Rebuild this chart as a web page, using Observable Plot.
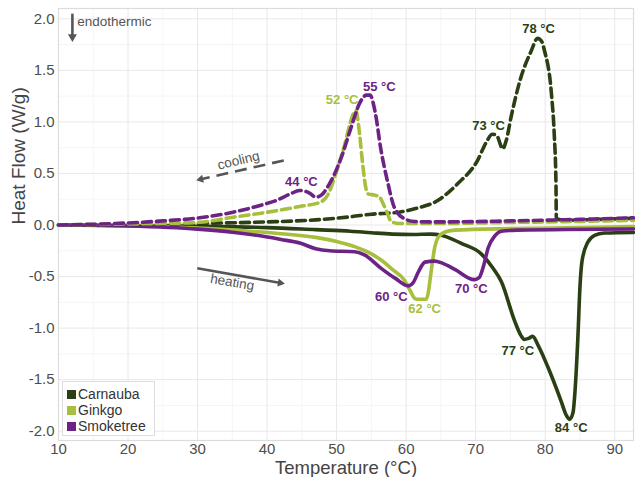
<!DOCTYPE html>
<html><head><meta charset="utf-8">
<script src="https://cdn.jsdelivr.net/npm/d3@7"></script>
<script src="https://cdn.jsdelivr.net/npm/@observablehq/plot@0.6"></script>
<style>
body{margin:0;background:#fff;font-family:"Liberation Sans",Arial,sans-serif;}
#wrap{position:relative;width:635px;height:477px;overflow:hidden;}
#legend{position:absolute;left:62px;top:381px;width:93px;height:55px;box-sizing:border-box;border:1px solid #dedede;background:#fff;padding:4px 0 0 4px;}
.row{display:flex;align-items:center;height:16px;overflow:visible;}
.sw{width:9px;height:9px;margin-right:2px;flex:none;}
.lab{display:block;height:16px;line-height:16px;font-size:14px;color:#333;white-space:nowrap;}
</style></head><body><div id="wrap"><div id="legend"></div></div>
<script>
// ---- data ----
const seriesNames = ["Carnauba", "Ginkgo", "Smoketree"];
const seriesColors = ["#2b3f14", "#a8bf3d", "#6c2385"];

// heating scans (solid): [temperature °C, heat flow W/g]
const carnaubaHeating = [[10,0],[20,-0.005],[30,-0.012],[40,-0.025],[47,-0.045],[52,-0.06],[55,-0.075],[58,-0.088],[61,-0.092],[63.5,-0.088],[65,-0.098],[66,-0.12],[68,-0.18],[70.8,-0.28],[72.5,-0.42],[73.7,-0.55],[75.6,-0.93],[76.5,-1.07],[77.0,-1.11],[77.6,-1.1],[78.2,-1.08],[79,-1.17],[80.4,-1.38],[82.3,-1.71],[83.0,-1.84],[83.5,-1.885],[84.0,-1.82],[84.3,-1.6],[84.7,-1.09],[85.0,-0.6],[85.3,-0.35],[86.1,-0.17],[87.1,-0.1],[88.5,-0.078],[92.7,-0.072]];
const ginkgoHeating = [[10,0],[20,-0.005],[30,-0.03],[37.5,-0.06],[42,-0.085],[47,-0.12],[50,-0.16],[52.6,-0.21],[55,-0.28],[56.4,-0.34],[58,-0.43],[59.8,-0.54],[60.6,-0.64],[61.2,-0.71],[61.6,-0.72],[62.9,-0.72],[63.2,-0.65],[63.5,-0.5],[63.8,-0.35],[64.1,-0.22],[64.6,-0.12],[65.5,-0.07],[67,-0.05],[75,-0.035],[85,-0.025],[92.7,-0.015]];
const smoketreeHeating = [[10,0],[20,-0.01],[30,-0.04],[35,-0.07],[38.5,-0.1],[42,-0.14],[44.7,-0.175],[47,-0.23],[49,-0.25],[52.6,-0.26],[54,-0.29],[56.4,-0.42],[58.5,-0.52],[60.3,-0.59],[61.0,-0.56],[61.8,-0.45],[62.7,-0.36],[64.1,-0.35],[65.2,-0.37],[67,-0.43],[69.8,-0.53],[70.5,-0.51],[71.2,-0.38],[71.8,-0.22],[72.7,-0.11],[73.7,-0.06],[76,-0.05],[92.7,-0.038]];

// cooling scans (dashed)
const carnaubaCooling = [[10,0],[20,0.005],[31,0.017],[40,0.03],[47,0.05],[52,0.08],[55,0.105],[59,0.124],[61.2,0.157],[64.6,0.24],[67.4,0.40],[70.3,0.63],[71.5,0.8],[72.4,0.88],[73,0.87],[73.9,0.74],[74.4,0.82],[75.1,1.05],[76.5,1.43],[78,1.69],[78.9,1.81],[79.5,1.78],[79.9,1.69],[80.9,1.27],[81.3,0.88],[81.55,0.4],[81.6,0.06],[83,0.045],[88,0.055],[92.7,0.065]];
const ginkgoCooling = [[10,0],[20,0.01],[25,0.015],[30.3,0.027],[35.1,0.076],[40,0.124],[44.7,0.18],[47.6,0.22],[48.8,0.3],[49.7,0.46],[50.5,0.63],[51.2,0.79],[52.0,1.0],[52.4,1.08],[52.8,1.11],[53.1,1.0],[53.3,0.885],[53.8,0.56],[54.2,0.36],[54.6,0.3],[55.5,0.29],[56.2,0.27],[56.6,0.22],[57.2,0.13],[57.9,0.03],[59,0.015],[65,0.015],[75,0.025],[85,0.035],[92.7,0.045]];
const smoketreeCooling = [[10,0],[20,0.02],[25,0.04],[30.3,0.07],[35.1,0.124],[39,0.19],[41.4,0.24],[43.3,0.3],[44.7,0.335],[46.1,0.31],[47,0.27],[47.8,0.29],[48.8,0.38],[50.7,0.66],[52.1,0.95],[53.3,1.18],[54.3,1.26],[54.8,1.26],[55.5,1.11],[56.4,0.72],[57.4,0.40],[58.3,0.17],[59.8,0.06],[61.2,0.034],[65,0.03],[75,0.04],[85,0.055],[92.7,0.07]];

// peak labels
const peakText = ["78 °C","73 °C","52 °C","55 °C","44 °C","60 °C","62 °C","70 °C","77 °C","84 °C"];
const peakT    = [79.05, 71.85, 50.8, 56.15, 44.94, 57.87, 62.66, 69.37, 76.06, 83.74];
const peakH    = [1.905, 0.966, 1.218, 1.345, 0.415, -0.697, -0.817, -0.623, -1.216, -1.966];
const peakSeries = ["Carnauba","Carnauba","Ginkgo","Smoketree","Smoketree","Smoketree","Ginkgo","Smoketree","Carnauba","Carnauba"];

// annotations
const noteText = ["endothermic", "cooling", "heating"];
const noteT = [12.69, 35.9, 34.99];
const noteH = [1.969, 0.626, -0.555];
const noteRotate = [0, -13.5, 10];
const noteAnchor = ["start", "middle", "middle"];
// arrows: start (T1,H1) -> tip (T2,H2); head triangle rotation and back-off fraction
const arrowT1 = [12.0, 42.4, 29.96];
const arrowH1 = [2.05, 0.626, -0.419];
const arrowT2 = [12.0, 29.7, 42.66];
const arrowH2 = [1.77, 0.432, -0.571];
const arrowDash = ["none", "12,7", "none"];
const arrowHeadRotate = [180, 257, 100];
const arrowHeadBack = [0.2, 0.06, 0.06];
const arrowHeadR = [4.4, 3.6, 3.6];

const xTicks = [10,20,30,40,50,60,70,80,90];
const xMinor = [15,25,35,45,55,65,75,85];
const yTicks = [-2,-1.5,-1,-0.5,0,0.5,1,1.5,2];
const yMinor = [-1.75,-1.25,-0.75,-0.25,0.25,0.75,1.25,1.75];

// ---- build ----
const toRows = (arr, series) => arr.map(([T, H]) => ({T, H, series}));
const heating = [...toRows(carnaubaHeating,"Carnauba"), ...toRows(ginkgoHeating,"Ginkgo"), ...toRows(smoketreeHeating,"Smoketree")];
const cooling = [...toRows(carnaubaCooling,"Carnauba"), ...toRows(ginkgoCooling,"Ginkgo"), ...toRows(smoketreeCooling,"Smoketree")];
const peaks = peakText.map((t, i) => ({text: t, T: peakT[i], H: peakH[i], series: peakSeries[i]}));
const notes = noteText.map((t, i) => ({text: t, T: noteT[i], H: noteH[i], rotate: noteRotate[i], anchor: noteAnchor[i]}));
const arrows = arrowT1.map((t1, i) => {
  const b = arrowHeadBack[i];
  return {T1: t1, H1: arrowH1[i], T2: arrowT2[i], H2: arrowH2[i], dash: arrowDash[i],
    hT: arrowT2[i] + (t1 - arrowT2[i]) * b, hH: arrowH2[i] + (arrowH1[i] - arrowH2[i]) * b,
    rot: arrowHeadRotate[i], r: arrowHeadR[i],
    sT: arrowT2[i] + (t1 - arrowT2[i]) * b * 1.2, sH: arrowH2[i] + (arrowH1[i] - arrowH2[i]) * b * 1.2};
});

const grey = "#555555";
const font = "Liberation Sans, Arial, sans-serif";

const plot = Plot.plot({
  width: 635, height: 477,
  marginLeft: 58, marginRight: 2, marginTop: 8, marginBottom: 37,
  style: {fontFamily: font, background: "#fff"},
  x: {domain: [10, 92.7]},
  y: {domain: [-2.09, 2.1]},
  color: {domain: seriesNames, range: seriesColors},
  symbol: {type: "identity"},
  marks: [
    Plot.gridX(xMinor, {stroke: "#f3f3f3", strokeOpacity: 1, strokeWidth: 0.8}),
    Plot.gridY(yMinor, {stroke: "#f3f3f3", strokeOpacity: 1, strokeWidth: 0.8}),
    Plot.gridX(xTicks, {stroke: "#e8e8e8", strokeOpacity: 1, strokeWidth: 1}),
    Plot.gridY(yTicks, {stroke: "#e8e8e8", strokeOpacity: 1, strokeWidth: 1}),
    Plot.frame({stroke: "#dcdcdc", strokeWidth: 1.2}),
    Plot.axisX({ticks: xTicks, tickSize: 0, tickPadding: 3, fontSize: 15, fill: "#4d4d4d", label: null}),
    Plot.axisY({ticks: yTicks, tickSize: 0, tickPadding: 4, fontSize: 15, fill: "#4d4d4d", label: null, tickFormat: d => d.toFixed(1)}),
    Plot.text(["Temperature (°C)"], {frameAnchor: "bottom", dy: 28, fontSize: 18.5, fill: "#444", lineAnchor: "middle"}),
    Plot.text(["Heat Flow (W/g)"], {frameAnchor: "left", dx: -40, rotate: -90, fontSize: 19, fill: "#444", lineAnchor: "middle"}),
    Plot.line(heating, {x: "T", y: "H", z: "series", stroke: "series", strokeWidth: 3.6, curve: "monotone-x"}),
    Plot.line(cooling, {x: "T", y: "H", z: "series", stroke: "series", strokeWidth: 3.6, strokeDasharray: "9,5", curve: "monotone-x"}),
    Plot.text(peaks, {x: "T", y: "H", text: "text", fill: "series", fontSize: 13, fontWeight: "bold"}),
    Plot.text(notes.filter(d => d.anchor === "start"), {x: "T", y: "H", text: "text", fill: grey, fontSize: 13.5, textAnchor: "start"}),
    Plot.text(notes.filter(d => d.anchor !== "start"), {x: "T", y: "H", text: "text", rotate: "rotate", fill: grey, fontSize: 13.5}),
    Plot.link(arrows.filter(d => d.dash === "none"), {x1: "T1", y1: "H1", x2: "sT", y2: "sH", stroke: grey, strokeWidth: 2.6}),
    Plot.link(arrows.filter(d => d.dash !== "none"), {x1: "T1", y1: "H1", x2: "sT", y2: "sH", stroke: grey, strokeWidth: 2.6, strokeDasharray: "12,7"}),
    Plot.dot(arrows, {x: "hT", y: "hH", symbol: () => "triangle", rotate: "rot", r: "r", fill: grey, stroke: "none"})
  ]
});
document.getElementById("wrap").prepend(plot);
plot.style.position = "absolute"; plot.style.left = "0"; plot.style.top = "0";

// legend
const lg = d3.select("#legend");
seriesNames.forEach((s, i) => {
  const r = lg.append("div").attr("class", "row");
  r.append("div").attr("class", "sw").style("background", seriesColors[i]);
  r.append("span").attr("class", "lab").text(s);
});
</script></body></html>
